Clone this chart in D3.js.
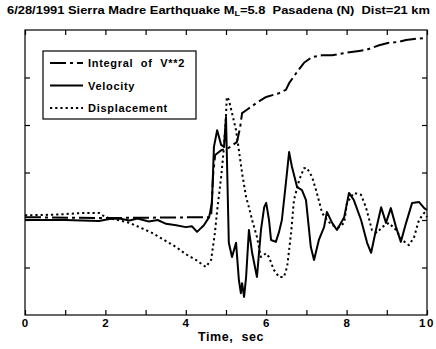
<!DOCTYPE html>
<html><head><meta charset="utf-8">
<script src="https://cdn.jsdelivr.net/npm/d3@7"></script>
<style>body{margin:0;background:#fff}svg{display:block}text{font-family:"Liberation Sans",Arial,sans-serif;font-weight:bold;fill:#000;white-space:pre}</style>
</head><body><svg id="c" width="436" height="349"></svg>
<script>
const xTicks = [0,1,2,3,4,5,6,7,8,9,10];
const xTickLabels = [0,2,4,6,8,10];
const yTicks = [-1,0,1,2,3];
const seriesNames = ["Integral  of  V**2","Velocity","Displacement"];

const integralT = [0,1.84,4.63,4.68,4.73,4.88,5.07,5.27,5.35,5.40,5.52,5.75,6.0,6.32,6.49,6.57,6.77,6.94,7.14,7.39,7.64,7.99,8.31,8.48,8.81,9.05,9.30,9.48,9.68,9.93,10];
const integralV = [0.06,0.04,0.06,0.95,1.37,1.47,1.52,1.64,1.94,2.25,2.32,2.46,2.59,2.67,2.74,2.88,3.12,3.31,3.43,3.47,3.47,3.52,3.56,3.58,3.68,3.73,3.75,3.79,3.81,3.83,3.84];

const velocityT = [0,1.0,1.84,2.1,2.34,2.6,2.8,3.08,3.3,3.51,3.76,4.0,4.15,4.28,4.45,4.58,4.65,4.70,4.78,4.88,4.95,5.0,5.07,5.15,5.25,5.32,5.37,5.40,5.45,5.50,5.57,5.65,5.77,5.87,5.95,6.0,6.07,6.12,6.24,6.32,6.39,6.49,6.57,6.64,6.77,6.89,6.99,7.11,7.19,7.31,7.44,7.51,7.64,7.76,7.94,8.06,8.18,8.36,8.51,8.61,8.73,8.86,8.98,9.10,9.23,9.35,9.48,9.63,9.80,9.93,10];
const velocityV = [0,0,-0.02,0.02,0.03,-0.01,0.03,-0.03,0.0,-0.08,-0.11,-0.15,-0.13,-0.25,-0.11,0.06,0.36,1.54,1.89,1.58,1.54,2.17,-0.48,-0.78,-0.48,-1.26,-1.54,-1.33,-1.62,-1.20,-0.21,-0.69,-1.20,-0.21,0.27,0.36,0,-0.42,-0.46,-0.25,0,0.78,1.43,1.12,0.69,0.63,0.42,-0.57,-0.84,-0.42,-0.15,0.17,-0.06,-0.21,0.06,0.57,0.42,0,-0.48,-0.69,-0.21,0.27,-0.06,0.25,-0.15,-0.46,-0.06,0.36,0.38,0.25,0.21];

const displacementT = [0,0.7,1.5,1.84,2.0,2.6,3.16,3.76,4.0,4.25,4.5,4.63,4.72,4.78,4.88,4.95,5.0,5.02,5.07,5.15,5.25,5.32,5.40,5.50,5.57,5.65,5.77,5.87,6.0,6.07,6.19,6.32,6.44,6.52,6.62,6.69,6.82,6.94,7.01,7.14,7.26,7.39,7.51,7.64,7.81,7.94,8.01,8.18,8.36,8.48,8.63,8.76,8.88,9.05,9.23,9.38,9.55,9.68,9.80,9.93,10];
const displacementV = [0.1,0.11,0.15,0.15,0.06,-0.06,-0.27,-0.57,-0.72,-0.84,-0.99,-0.84,-0.3,0.2,0.91,1.54,2.2,2.59,2.53,2.25,1.89,1.47,0.99,0.48,0.27,0,-0.36,-0.78,-0.70,-0.78,-1.05,-1.20,-1.20,-0.99,-0.27,0.42,0.84,1.09,1.10,0.91,0.57,0.15,0,-0.11,-0.15,-0.06,0.36,0.57,0.53,0.27,-0.21,-0.27,-0.15,-0.06,-0.21,-0.42,-0.53,-0.36,0,0.15,0.06];

const svg = d3.select("#c");
const L=25, R=427, T=30, B=315;
const x = d3.scaleLinear().domain([0,10]).range([L,R]);
const y = d3.scaleLinear().domain([-2,4]).range([B,T]);

svg.append("rect").attr("x",L).attr("y",T).attr("width",R-L).attr("height",B-T)
  .attr("fill","none").attr("stroke","#000").attr("stroke-width",1.2);

const gB = svg.append("g").attr("transform",`translate(0,${B})`)
  .call(d3.axisTop(x).tickValues(xTicks).tickSize(5).tickFormat(""));
const gT = svg.append("g").attr("transform",`translate(0,${T})`)
  .call(d3.axisBottom(x).tickValues(xTicks).tickSize(5).tickFormat(""));
const gL = svg.append("g").attr("transform",`translate(${L},0)`)
  .call(d3.axisRight(y).tickValues(yTicks).tickSize(5).tickFormat(""));
const gR = svg.append("g").attr("transform",`translate(${R},0)`)
  .call(d3.axisLeft(y).tickValues(yTicks).tickSize(5).tickFormat(""));
[gB,gT,gL,gR].forEach(g=>{g.select(".domain").remove();g.selectAll("line").attr("stroke","#000").attr("stroke-width",1.2);});

svg.append("g").selectAll("text").data(xTickLabels).join("text")
  .attr("x",d=>x(d)).attr("y",B+12).attr("text-anchor","middle")
  .attr("font-size",11.5).attr("letter-spacing",d=>d>=10?1.5:0).text(d=>d);

svg.append("text").attr("x",(L+R)/2+5).attr("y",341).attr("text-anchor","middle")
  .attr("font-size",12.5).attr("letter-spacing",0.6).text("Time,  sec");

const title = svg.append("text").attr("x",7).attr("y",14).attr("font-size",11.5).attr("textLength",423).attr("lengthAdjust","spacingAndGlyphs");
title.append("tspan").text("6/28/1991 Sierra Madre Earthquake M");
title.append("tspan").attr("font-size",8).attr("dy",2).text("L");
title.append("tspan").attr("dy",-2).text("=5.8  Pasadena (N)  Dist=21 km");

const line = d3.line().x(d=>x(d[0])).y(d=>y(d[1]));
const zip = (a,b)=>a.map((t,i)=>[t,b[i]]);
const styles = [
  {data:zip(integralT,integralV), dash:"16,4,3,4", w:2},
  {data:zip(velocityT,velocityV), dash:null, w:2},
  {data:zip(displacementT,displacementV), dash:"2.2,3", w:2}
];
const plot = svg.append("g");
styles.forEach(s=>{
  plot.append("path").attr("d",line(s.data)).attr("fill","none").attr("stroke","#000")
    .attr("stroke-width",s.w).attr("stroke-dasharray",s.dash).attr("stroke-linejoin","round");
});

const lg = svg.append("g");
lg.append("rect").attr("x",43).attr("y",51).attr("width",153).attr("height",68)
  .attr("fill","#fff").attr("stroke","#000").attr("stroke-width",1.2);
seriesNames.forEach((n,i)=>{
  const yy = 63 + i*22.5;
  lg.append("line").attr("x1",50).attr("x2",83).attr("y1",yy).attr("y2",yy)
    .attr("stroke","#000").attr("stroke-width",styles[i].w).attr("stroke-dasharray",styles[i].dash);
  lg.append("text").attr("x",88).attr("y",yy+4).attr("font-size",11).attr("letter-spacing",0.7).text(n);
});
</script></body></html>
